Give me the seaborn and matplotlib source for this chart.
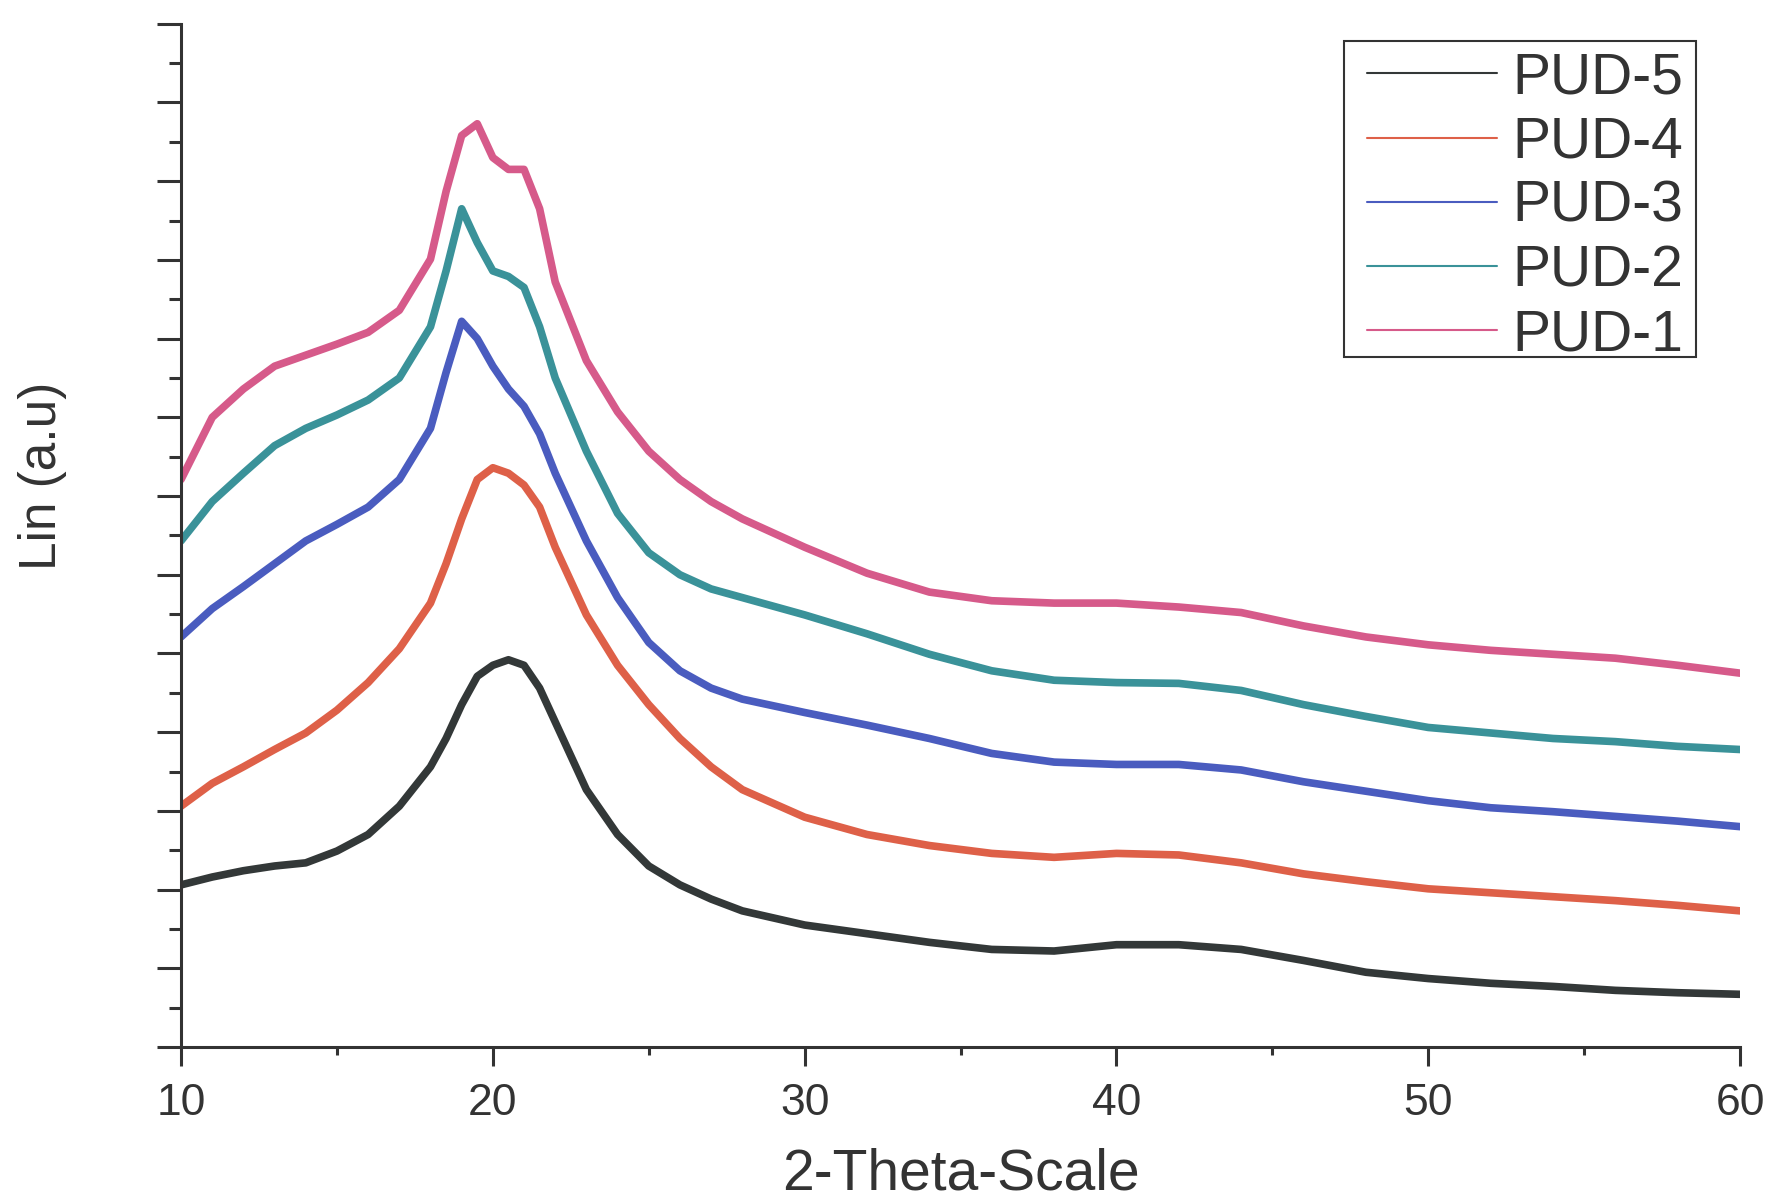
import numpy as np
import pandas as pd
import matplotlib
matplotlib.use("Agg")
import matplotlib.pyplot as plt
import seaborn as sns
from matplotlib.lines import Line2D
from matplotlib.patches import Rectangle
from matplotlib.ticker import MultipleLocator

# 2-theta positions (degrees)
two_theta = [10, 11, 12, 13, 14, 15, 16, 17, 18, 18.5, 19, 19.5, 20, 20.5, 21, 21.5,
             22, 23, 24, 25, 26, 27, 28, 30, 32, 34, 36, 38, 40, 42, 44, 46, 48,
             50, 52, 54, 56, 58, 60]

# Intensities (arbitrary units)
pud5 = [206, 216, 224, 230, 234, 249, 270, 306, 356, 392, 435, 471, 485, 492, 485, 456,
        413, 327, 270, 230, 206, 188, 173, 155, 144, 133, 124, 122, 130, 130, 124, 110, 95,
        87, 81, 77, 72, 69, 67]
pud4 = [306, 335, 356, 378, 399, 428, 463, 506, 564, 614, 671, 721, 736, 729, 714, 686,
        635, 549, 485, 435, 392, 356, 327, 292, 270, 256, 246, 241, 246, 244, 234, 220, 210,
        201, 196, 191, 186, 180, 173]
pud3 = [521, 557, 585, 614, 643, 664, 686, 721, 786, 857, 922, 900, 865, 836, 814, 779,
        729, 643, 571, 514, 478, 456, 442, 425, 409, 392, 373, 362, 359, 359, 352, 337, 325,
        313, 304, 299, 293, 287, 280]
pud2 = [643, 693, 729, 764, 786, 803, 822, 850, 915, 986, 1065, 1022, 986, 979, 965, 915,
        850, 757, 678, 628, 600, 582, 571, 549, 525, 499, 478, 466, 463, 462, 453, 435, 420,
        406, 399, 392, 388, 382, 378]
pud1 = [721, 800, 836, 865, 879, 893, 908, 936, 1001, 1087, 1158, 1173, 1130, 1115, 1115, 1065,
        972, 872, 807, 757, 721, 693, 671, 635, 602, 578, 567, 564, 564, 559, 552, 535, 521,
        511, 504, 499, 494, 485, 475]

labels = ["PUD-5", "PUD-4", "PUD-3", "PUD-2", "PUD-1"]
series = [pud5, pud4, pud3, pud2, pud1]
colors = ["#333838", "#de6048", "#4a5cbf", "#3a9299", "#d65a8a"]

sns.set_style("ticks")
plt.rcParams["font.family"] = ["Liberation Sans", "DejaVu Sans"]

fig = plt.figure(figsize=(17.68, 12.01), dpi=100)
ax = fig.add_axes([0.1024, 0.1282, 0.8818, 0.852])

df = pd.concat([pd.DataFrame({"2theta": two_theta, "Lin": s, "sample": l})
                for s, l in zip(series, labels)], ignore_index=True)
sns.lineplot(data=df, x="2theta", y="Lin", hue="sample", hue_order=labels,
             palette=colors, linewidth=5.5, sort=False, legend=False, ax=ax)

ax.set_xlim(10, 60)
ax.set_ylim(0, 1300)
ax.xaxis.set_major_locator(MultipleLocator(10))
ax.xaxis.set_minor_locator(MultipleLocator(5))
ax.yaxis.set_major_locator(MultipleLocator(100))
ax.yaxis.set_minor_locator(MultipleLocator(50))
ax.set_yticklabels([])

axis_col = "#333333"
for side in ["top", "right"]:
    ax.spines[side].set_visible(False)
for side in ["left", "bottom"]:
    ax.spines[side].set_linewidth(2.2)
    ax.spines[side].set_color(axis_col)
ax.tick_params(axis="x", which="major", direction="out", length=14, width=2.2,
               color=axis_col, labelsize=32, labelcolor="#333333", pad=12)
ax.tick_params(axis="x", which="minor", direction="out", length=6, width=2.2, color=axis_col)
ax.tick_params(axis="y", which="major", direction="out", length=17, width=2.2, color=axis_col)
ax.tick_params(axis="y", which="minor", direction="out", length=8.5, width=2.2, color=axis_col)

ax.set_xlabel("2-Theta-Scale", fontsize=41, color="#333333", labelpad=17)
ax.set_ylabel("Lin (a.u)", fontsize=37, color="#333333")
ax.yaxis.set_label_coords(-0.073, 0.558)

# legend box
ax.add_patch(Rectangle((0.746, 0.674), 0.226, 0.309, transform=ax.transAxes,
                       facecolor="white", edgecolor="#333333", linewidth=1.5,
                       zorder=4, clip_on=False))
handles = [Line2D([0], [0], color=c, lw=1.5) for c in colors]
leg = ax.legend(handles, labels, loc="upper left", bbox_to_anchor=(0.761, 0.973),
                fontsize=41, frameon=False, handlelength=2.28,
                handletextpad=0.26, labelspacing=0.18, borderpad=0, borderaxespad=0)
leg.set_zorder(5)
for t in leg.get_texts():
    t.set_color("#333333")

fig.savefig("out.png", dpi=100, facecolor="white")
